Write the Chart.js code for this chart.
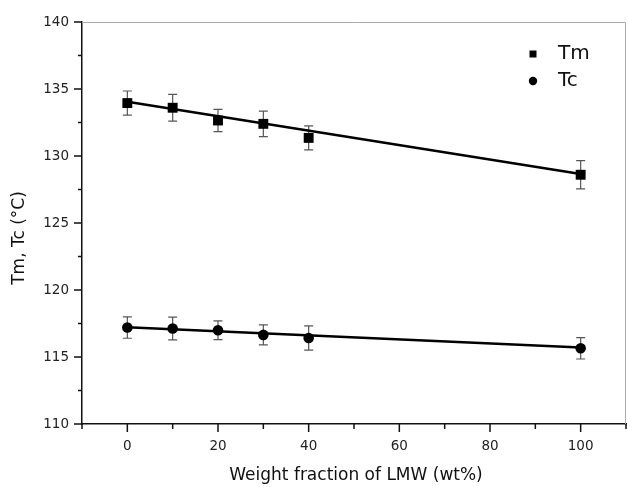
<!DOCTYPE html>
<html>
<head>
<meta charset="utf-8">
<script src="https://cdn.jsdelivr.net/npm/chart.js@4.4.1/dist/chart.umd.min.js"></script>
<style>
html,body{margin:0;padding:0;background:#fff;}
#wrap{width:627px;height:487px;}
</style>
</head>
<body>
<div id="wrap"><canvas id="c" width="627" height="487"></canvas></div>
<script>
// ---- data ----
const xValues = [0, 10, 20, 30, 40, 100];
const tmValues = [133.95, 133.6, 132.65, 132.4, 131.35, 128.6];
const tmErrors = [0.9, 1.0, 0.83, 0.95, 0.9, 1.05];
const tcValues = [117.2, 117.13, 117.0, 116.65, 116.42, 115.65];
const tcErrors = [0.8, 0.85, 0.7, 0.75, 0.9, 0.8];
const fitX = [0, 100];
const tmFit = [134.05, 128.65];
const tcFit = [117.22, 115.7];
const xTicks = [0, 20, 40, 60, 80, 100];
const xMinorTicks = [-10, 10, 30, 50, 70, 90, 110];
const yTicks = [110, 115, 120, 125, 130, 135, 140];
const yMinorTicks = [112.5, 117.5, 122.5, 127.5, 132.5, 137.5];
const legendLabels = ['Tm', 'Tc'];
const xTitle = 'Weight fraction of LMW (wt%)';
const yTitle = 'Tm, Tc (\u00B0C)';

const FONT = '"DejaVu Sans", sans-serif';

const pts = (xs, ys) => xs.map((x, i) => ({x: x, y: ys[i]}));

const decor = {
  id: 'decor',
  beforeDatasetsDraw(chart) {
    const {ctx, scales: {x, y}} = chart;
    ctx.save();
    ctx.strokeStyle = '#555';
    ctx.lineWidth = 1.2;
    const bars = (vals, errs) => {
      xValues.forEach((xv, i) => {
        const px = x.getPixelForValue(xv);
        const top = y.getPixelForValue(vals[i] + errs[i]);
        const bot = y.getPixelForValue(vals[i] - errs[i]);
        ctx.beginPath();
        ctx.moveTo(px, top); ctx.lineTo(px, bot);
        ctx.moveTo(px - 4.5, top); ctx.lineTo(px + 4.5, top);
        ctx.moveTo(px - 4.5, bot); ctx.lineTo(px + 4.5, bot);
        ctx.stroke();
      });
    };
    bars(tmValues, tmErrors);
    bars(tcValues, tcErrors);
    ctx.restore();
  },
  afterDraw(chart) {
    const {ctx, chartArea: a, scales: {x, y}} = chart;
    ctx.save();
    ctx.strokeStyle = '#aaa';
    ctx.lineWidth = 1;
    ctx.beginPath();
    ctx.moveTo(a.left, a.top + 0.5); ctx.lineTo(a.right - 0.5, a.top + 0.5);
    ctx.lineTo(a.right - 0.5, a.bottom);
    ctx.stroke();
    ctx.strokeStyle = '#111';
    ctx.lineWidth = 1.5;
    ctx.beginPath();
    xTicks.forEach(v => { const p = x.getPixelForValue(v); ctx.moveTo(p, a.bottom); ctx.lineTo(p, a.bottom + 8); });
    xMinorTicks.forEach(v => { const p = x.getPixelForValue(v); ctx.moveTo(p, a.bottom); ctx.lineTo(p, a.bottom + 5); });
    yTicks.forEach(v => { const p = y.getPixelForValue(v); ctx.moveTo(a.left, p); ctx.lineTo(a.left - 8, p); });
    yMinorTicks.forEach(v => { const p = y.getPixelForValue(v); ctx.moveTo(a.left, p); ctx.lineTo(a.left - 4, p); });
    ctx.stroke();
    ctx.fillStyle = '#111';
    ctx.font = '17px ' + FONT;
    ctx.textAlign = 'center';
    ctx.textBaseline = 'middle';
    ctx.fillText(xTitle, 356, 476);
    ctx.save();
    ctx.translate(20, 238);
    ctx.rotate(-Math.PI / 2);
    ctx.fillText(yTitle, 0, 0);
    ctx.restore();
    ctx.font = '20px ' + FONT;
    ctx.textAlign = 'left';
    ctx.fillStyle = '#000';
    ctx.fillRect(533 - 3.5, 54 - 3.5, 7, 7);
    ctx.beginPath(); ctx.arc(533, 81, 4.2, 0, Math.PI * 2); ctx.fill();
    ctx.fillStyle = '#111';
    ctx.fillText(legendLabels[0], 558, 54);
    ctx.fillText(legendLabels[1], 558, 81);
    ctx.restore();
  }
};

new Chart(document.getElementById('c'), {
  type: 'scatter',
  data: {
    datasets: [
      {label: legendLabels[0] + ' fit', data: pts(fitX, tmFit), showLine: true, borderColor: '#000', borderWidth: 2.5, pointRadius: 0, order: 2},
      {label: legendLabels[1] + ' fit', data: pts(fitX, tcFit), showLine: true, borderColor: '#000', borderWidth: 2.5, pointRadius: 0, order: 2},
      {label: legendLabels[0], data: pts(xValues, tmValues), pointStyle: 'rect', pointRadius: 7, backgroundColor: '#000', borderColor: '#000', borderWidth: 0, order: 1},
      {label: legendLabels[1], data: pts(xValues, tcValues), pointStyle: 'circle', pointRadius: 5.3, backgroundColor: '#000', borderColor: '#000', borderWidth: 0, order: 1}
    ]
  },
  options: {
    responsive: false,
    animation: false,
    events: [],
    layout: {autoPadding: false, padding: {top: 22, right: 1, left: 0, bottom: 0}},
    plugins: {legend: {display: false}, tooltip: {enabled: false}},
    scales: {
      x: {
        type: 'linear', min: -10, max: 110,
        afterBuildTicks: s => { s.ticks = xTicks.map(v => ({value: v})); },
        afterFit: s => { s.height = 63; s.paddingLeft = 0; s.paddingRight = 0; },
        grid: {display: true, drawOnChartArea: false, drawTicks: false},
        border: {display: true, color: '#111', width: 1.5},
        ticks: {padding: 14, color: '#222', font: {family: FONT, size: 13.5}, maxRotation: 0, autoSkip: false},
        title: {display: false}
      },
      y: {
        type: 'linear', min: 110, max: 140,
        afterBuildTicks: s => { s.ticks = yTicks.map(v => ({value: v})); },
        afterFit: s => { s.width = 82; s.paddingTop = 0; s.paddingBottom = 0; },
        grid: {display: true, drawOnChartArea: false, drawTicks: false},
        border: {display: true, color: '#111', width: 1.5},
        ticks: {padding: 13, color: '#222', font: {family: FONT, size: 13.5}, autoSkip: false},
        title: {display: false}
      }
    }
  },
  plugins: [decor]
});
</script>
</body>
</html>
